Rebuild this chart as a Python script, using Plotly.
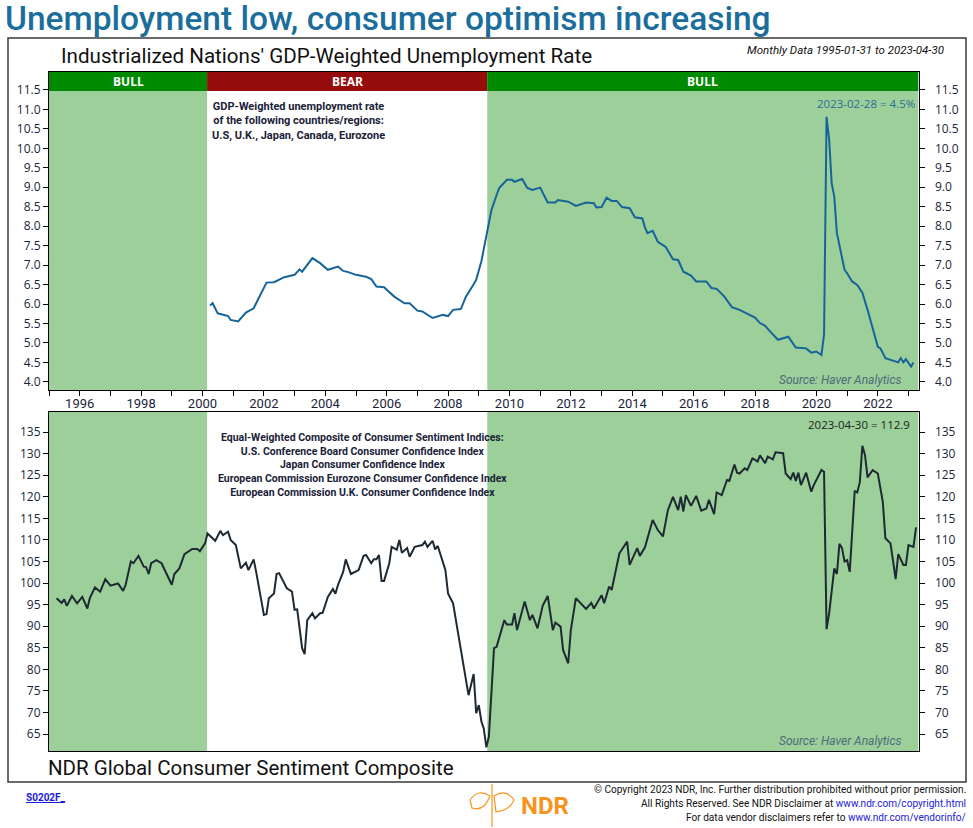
import plotly.graph_objects as go
import datetime as _dt

W, H = 973, 828

# ---------------- data ----------------
U_DATES = ["2000-04","2000-05","2000-07","2000-11","2000-12","2001-03","2001-06","2001-09","2002-02","2002-05",
           "2002-09","2003-01","2003-03","2003-04","2003-08","2003-11","2004-02","2004-06","2004-08","2004-10",
           "2005-01","2005-05","2005-07","2005-09","2005-12","2006-04","2006-08","2006-10","2007-01","2007-03",
           "2007-07","2007-11","2008-01","2008-03","2008-06","2008-08","2008-11","2008-12","2009-02","2009-04",
           "2009-06","2009-08","2009-09","2009-12","2010-02","2010-03","2010-06","2010-08","2010-10","2011-01",
           "2011-04","2011-07","2011-08","2011-12","2012-03","2012-07","2012-10","2012-11","2013-01","2013-03",
           "2013-05","2013-07","2013-09","2013-12","2014-02","2014-05","2014-06","2014-07","2014-09","2014-11",
           "2015-02","2015-05","2015-07","2015-09","2015-12","2016-02","2016-06","2016-08","2016-10","2017-01",
           "2017-04","2017-07","2017-10","2018-01","2018-03","2018-05","2018-07","2018-10","2019-02","2019-05",
           "2019-09","2019-11","2020-01","2020-03","2020-04","2020-05","2020-06","2020-07","2020-08","2020-09",
           "2020-12","2021-01","2021-03","2021-05","2021-07","2021-09","2022-01","2022-02","2022-04","2022-07",
           "2022-09","2022-10","2022-11","2022-12","2023-02","2023-03"]
U_VALS = [5.96,6.02,5.76,5.69,5.59,5.55,5.78,5.89,6.55,6.56,
          6.69,6.75,6.89,6.83,7.18,7.05,6.88,6.96,6.85,6.82,
          6.75,6.70,6.64,6.45,6.43,6.19,6.02,6.02,5.83,5.81,
          5.64,5.72,5.69,5.85,5.87,6.19,6.51,6.62,7.10,7.80,
          8.42,8.80,8.98,9.19,9.19,9.14,9.21,8.98,8.93,8.99,
          8.61,8.61,8.67,8.63,8.52,8.61,8.59,8.48,8.49,8.73,
          8.65,8.65,8.49,8.46,8.23,8.20,7.97,7.82,7.88,7.60,
          7.47,7.15,7.13,6.83,6.73,6.58,6.58,6.41,6.39,6.19,
          5.92,5.85,5.76,5.65,5.51,5.44,5.29,5.08,5.16,4.88,
          4.86,4.75,4.78,4.69,5.21,10.81,10.22,9.10,8.76,7.82,
          6.88,6.79,6.58,6.49,6.29,5.85,4.90,4.86,4.61,4.55,
          4.50,4.61,4.50,4.58,4.39,4.50]

S_DATES = ["1995-04","1995-06","1995-07","1995-08","1995-10","1995-12","1996-02","1996-04","1996-05","1996-07",
           "1996-09","1996-11","1997-01","1997-04","1997-06","1997-07","1997-09","1997-10","1997-12","1998-02",
           "1998-03","1998-04","1998-05","1998-07","1998-09","1998-11","1999-01","1999-02","1999-04","1999-06",
           "1999-07","1999-09","1999-11","1999-12","2000-02","2000-03","2000-06","2000-08","2000-09","2000-11",
           "2000-12","2001-02","2001-04","2001-06","2001-07","2001-09","2001-10","2002-01","2002-02","2002-03",
           "2002-05","2002-06","2002-07","2002-10","2002-12","2003-01","2003-02","2003-03","2003-04","2003-05",
           "2003-06","2003-08","2003-09","2003-11","2003-12","2004-02","2004-04","2004-05","2004-06","2004-08",
           "2004-09","2004-11","2005-02","2005-04","2005-05","2005-07","2005-08","2005-09","2005-10","2005-11",
           "2005-12","2006-02","2006-03","2006-05","2006-06","2006-07","2006-09","2006-10","2006-12","2007-03",
           "2007-04","2007-05","2007-07","2007-08","2007-09","2007-12","2008-01","2008-03","2008-05","2008-07",
           "2008-09","2008-11","2008-12","2009-01","2009-02","2009-03","2009-04","2009-05","2009-07","2009-08",
           "2009-11","2009-12","2010-02","2010-03","2010-04","2010-07","2010-09","2010-10","2010-12","2011-02",
           "2011-04","2011-06","2011-07","2011-09","2011-10","2011-12","2012-01","2012-03","2012-07","2012-09",
           "2012-10","2013-01","2013-02","2013-04","2013-05","2013-08","2013-11","2013-12","2014-03","2014-04",
           "2014-06","2014-09","2014-11","2015-01","2015-03","2015-05","2015-07","2015-08","2015-09","2015-10",
           "2015-12","2016-02","2016-04","2016-06","2016-07","2016-09","2016-10","2016-12","2017-02","2017-03",
           "2017-05","2017-06","2017-07","2017-09","2017-10","2017-12","2018-02","2018-03","2018-05","2018-06",
           "2018-08","2018-09","2018-12","2019-01","2019-03","2019-04","2019-05","2019-06","2019-07","2019-09",
           "2019-11","2019-12","2020-03","2020-04","2020-05","2020-06","2020-08","2020-09","2020-10","2020-11",
           "2020-12","2021-01","2021-02","2021-04","2021-05","2021-06","2021-07","2021-08","2021-09","2021-11",
           "2022-01","2022-03","2022-04","2022-06","2022-08","2022-09","2022-11","2022-12","2023-01","2023-03",
           "2023-04"]
S_VALS = [96.5,95.4,96.2,94.7,97.0,95.3,96.8,94.1,96.5,99.0,
          98.0,100.9,99.4,99.9,98.2,99.6,105.0,104.6,106.3,103.8,
          103.7,102.1,104.6,105.3,104.6,101.9,99.6,102.1,103.4,106.7,
          107.1,107.9,107.9,107.4,109.2,111.5,109.8,112.1,111.1,111.9,
          110.0,108.8,103.4,104.7,103.0,105.5,102.6,92.6,92.8,96.5,
          97.6,102.1,102.3,98.8,98.0,93.8,93.9,89.9,84.9,83.5,
          91.4,93.0,91.8,93.0,93.1,96.8,98.6,97.5,99.6,102.6,
          105.5,102.1,103.0,106.3,106.5,104.6,105.5,105.5,106.5,100.5,
          100.5,104.6,108.4,107.7,110.0,107.0,108.1,106.1,108.4,108.8,
          109.6,108.4,109.8,107.8,108.6,103.0,97.6,95.3,88.4,81.4,
          74.0,78.9,69.8,71.7,67.9,66.3,61.9,64.4,84.9,85.2,
          91.4,90.4,90.4,93.0,89.1,95.7,91.4,92.6,89.5,94.8,
          97.0,89.1,90.8,89.9,84.5,81.4,89.1,96.5,94.0,95.4,
          94.1,97.2,95.3,99.2,98.4,106.9,109.6,104.2,108.1,106.3,
          108.3,114.6,112.3,110.8,116.9,120.0,116.9,120.0,116.6,120.4,
          117.9,120.2,116.8,117.3,119.3,116.0,121.0,120.4,123.9,123.7,
          127.5,125.6,125.4,126.6,126.2,128.9,128.2,129.6,127.8,129.3,
          128.7,130.3,130.1,125.4,124.1,125.6,123.7,125.6,122.7,125.6,
          121.2,122.7,126.2,125.8,89.3,93.0,103.4,102.1,109.1,108.1,
          105.0,105.3,102.6,121.4,121.0,123.4,131.8,129.7,124.5,126.2,
          125.4,118.9,110.4,109.2,100.9,106.7,104.2,104.2,108.8,108.4,
          112.9]

# market regimes
REGIME_LABELS = ["BULL", "BEAR", "BULL"]
REGIME_STARTS = ["1995-01-01", "2000-02-25", "2009-04-12"]
REGIME_ENDS = ["2000-02-25", "2009-04-12", "2023-04-30"]

U_TICKS = [4.0, 4.5, 5.0, 5.5, 6.0, 6.5, 7.0, 7.5, 8.0, 8.5, 9.0, 9.5, 10.0, 10.5, 11.0, 11.5]
S_TICKS = [65, 70, 75, 80, 85, 90, 95, 100, 105, 110, 115, 120, 125, 130, 135]

# ---------------- layout helpers ----------------
def px(x):
    return x / W

def py(y):
    return 1 - y / H

X_RANGE = ["1995-01-01", "2023-04-30"]
XDOM = [px(49), px(918.5)]
TOP_DOM = [py(390), py(72)]
BOT_DOM = [py(751), py(412)]
U_RANGE = [3.79, 11.962]
S_RANGE = [61.06, 139.66]

LINE_BLUE = "#17649a"
LINE_DARK = "#1e2a33"
GREEN_FILL = "#9ccf9a"
BULL_GREEN = "#008a00"
BEAR_RED = "#960c0c"
TICK_COL = "#1b1f3b"

fig = go.Figure()

fig.add_trace(go.Scatter(x=U_DATES, y=U_VALS, mode="lines", xaxis="x", yaxis="y",
                         line=dict(color=LINE_BLUE, width=2), showlegend=False, hoverinfo="x+y"))
fig.add_trace(go.Scatter(x=U_DATES, y=U_VALS, mode="lines", xaxis="x", yaxis="y2",
                         line=dict(color=LINE_BLUE, width=0), opacity=0, showlegend=False, hoverinfo="skip"))
fig.add_trace(go.Scatter(x=S_DATES, y=S_VALS, mode="lines", xaxis="x2", yaxis="y3",
                         line=dict(color=LINE_DARK, width=2), showlegend=False, hoverinfo="x+y"))
fig.add_trace(go.Scatter(x=S_DATES, y=S_VALS, mode="lines", xaxis="x2", yaxis="y4",
                         line=dict(color=LINE_DARK, width=0), opacity=0, showlegend=False, hoverinfo="skip"))

shapes = []
# green shading for bull regimes
for lab, s, e in zip(REGIME_LABELS, REGIME_STARTS, REGIME_ENDS):
    if lab == "BULL":
        for xr, yr in (("x", "y domain"), ("x2", "y3 domain")):
            shapes.append(dict(type="rect", xref=xr, yref=yr, x0=s, x1=e, y0=0, y1=1,
                               fillcolor=GREEN_FILL, line=dict(width=0), layer="below"))
# header bar
for lab, s, e in zip(REGIME_LABELS, REGIME_STARTS, REGIME_ENDS):
    shapes.append(dict(type="rect", xref="x", yref="paper", x0=s, x1=e, y0=py(91), y1=py(72),
                       fillcolor=BULL_GREEN if lab == "BULL" else BEAR_RED, line=dict(width=0), layer="below"))
# outer frame
shapes.append(dict(type="rect", xref="paper", yref="paper", x0=px(8), x1=px(966), y0=py(782), y1=py(38),
                   line=dict(color="#3a3a3a", width=1.5), fillcolor="rgba(0,0,0,0)"))

annotations = []

def mid(s, e):
    a = _dt.date.fromisoformat(s)
    b = _dt.date.fromisoformat(e)
    return (a + (b - a) / 2).isoformat()

for lab, s, e in zip(REGIME_LABELS, REGIME_STARTS, REGIME_ENDS):
    annotations.append(dict(text="<b>" + lab + "</b>", x=mid(s, e), xref="x", y=py(81.5), yref="paper",
                            showarrow=False, font=dict(family="Open Sans", size=12, color="white"),
                            xanchor="center", yanchor="middle"))

annotations += [
    dict(text="Unemployment low, consumer optimism increasing", x=px(3), y=py(19), xref="paper", yref="paper",
         showarrow=False, xanchor="left", yanchor="middle",
         font=dict(family="Roboto", size=33.5, color="#1b6e9b", weight=500)),
    dict(text="Industrialized Nations' GDP-Weighted Unemployment Rate", x=px(59), y=py(56), xref="paper",
         yref="paper", showarrow=False, xanchor="left", yanchor="middle",
         font=dict(family="Roboto", size=20.6, color="#111111")),
    dict(text="<i>Monthly Data 1995-01-31 to 2023-04-30</i>", x=px(946), y=py(50), xref="paper", yref="paper",
         showarrow=False, xanchor="right", yanchor="middle",
         font=dict(family="Roboto", size=11.5, color="#111111")),
    dict(text="<b>GDP-Weighted unemployment rate<br>of the following countries/regions:<br>U.S, U.K., Japan, Canada, Eurozone</b>",
         x=px(298), y=py(98), xref="paper", yref="paper", showarrow=False, xanchor="center", yanchor="top",
         align="center", font=dict(family="Roboto", size=11, color="#1a2238")),
    dict(text="2023-02-28 = 4.5%", x=px(917), y=py(103), xref="paper", yref="paper", showarrow=False,
         xanchor="right", yanchor="middle", font=dict(family="Open Sans", size=11.5, color="#2a6e94")),
    dict(text="<i>Source: Haver Analytics</i>", x=px(904), y=py(380), xref="paper", yref="paper",
         showarrow=False, xanchor="right", yanchor="middle",
         font=dict(family="Roboto", size=12, color="#4f6b7a")),
    dict(text="2023-04-30 = 112.9", x=px(912), y=py(425), xref="paper", yref="paper", showarrow=False,
         xanchor="right", yanchor="middle", font=dict(family="Open Sans", size=11.5, color="#222222")),
    dict(text="<b>Equal-Weighted Composite of Consumer Sentiment Indices:<br>U.S. Conference Board Consumer Confidence Index<br>Japan Consumer Confidence Index<br>European Commission Eurozone Consumer Confidence Index<br>European Commission U.K. Consumer Confidence Index</b>",
         x=px(362), y=py(429), xref="paper", yref="paper", showarrow=False, xanchor="center", yanchor="top",
         align="center", font=dict(family="Roboto", size=10.5, color="#1a2238")),
    dict(text="<i>Source: Haver Analytics</i>", x=px(904), y=py(741), xref="paper", yref="paper",
         showarrow=False, xanchor="right", yanchor="middle",
         font=dict(family="Roboto", size=12, color="#4f6b7a")),
    dict(text="NDR Global Consumer Sentiment Composite", x=px(46), y=py(768), xref="paper", yref="paper",
         showarrow=False, xanchor="left", yanchor="middle",
         font=dict(family="Roboto", size=20.5, color="#111111")),
    dict(text="<b><u>S0202F_</u></b>", x=px(24), y=py(797), xref="paper", yref="paper", showarrow=False,
         xanchor="left", yanchor="middle", font=dict(family="Roboto", size=10, color="#1a1adb")),
    dict(text="© Copyright 2023 NDR, Inc. Further distribution prohibited without prior permission.",
         x=px(968), y=py(789), xref="paper", yref="paper", showarrow=False, xanchor="right", yanchor="middle",
         font=dict(family="Roboto", size=10.1, color="#111111")),
    dict(text="All Rights Reserved. See NDR Disclaimer at <span style='color:#2222dd'>www.ndr.com/copyright.html</span>",
         x=px(968), y=py(803), xref="paper", yref="paper", showarrow=False, xanchor="right", yanchor="middle",
         font=dict(family="Roboto", size=10.1, color="#111111")),
    dict(text="For data vendor disclaimers refer to <span style='color:#2222dd'>www.ndr.com/vendorinfo/</span>",
         x=px(968), y=py(817), xref="paper", yref="paper", showarrow=False, xanchor="right", yanchor="middle",
         font=dict(family="Roboto", size=10.1, color="#111111")),
    dict(text="<b>NDR</b>", x=px(519), y=py(806), xref="paper", yref="paper", showarrow=False,
         xanchor="left", yanchor="middle", font=dict(family="Roboto", size=24, color="#f7941d")),
]

# simple NDR logo mark
LOGO = "#f7941d"
shapes += [
    dict(type="line", xref="paper", yref="paper", x0=px(492), x1=px(492), y0=py(827), y1=py(784),
         line=dict(color=LOGO, width=1.2)),
    dict(type="path", xref="paper", yref="paper",
         path=f"M {px(470)} {py(800)} Q {px(478)} {py(788)} {px(490)} {py(796)} Q {px(484)} {py(812)} {px(472)} {py(808)} Z",
         line=dict(color=LOGO, width=1.2), fillcolor="rgba(0,0,0,0)"),
    dict(type="path", xref="paper", yref="paper",
         path=f"M {px(494)} {py(796)} Q {px(506)} {py(788)} {px(514)} {py(800)} Q {px(510)} {py(810)} {px(496)} {py(812)} Z",
         line=dict(color=LOGO, width=1.2), fillcolor="rgba(0,0,0,0)"),
]

yax_common = dict(showgrid=False, zeroline=False, showline=True, linecolor="black", linewidth=1,
                  ticks="outside", ticklen=5, tickcolor="black",
                  tickfont=dict(family="Open Sans", size=12, color=TICK_COL))

fig.update_layout(
    width=W, height=H,
    margin=dict(l=0, r=0, t=0, b=0),
    paper_bgcolor="white", plot_bgcolor="white",
    showlegend=False,
    xaxis=dict(domain=XDOM, anchor="y", type="date", range=X_RANGE, showgrid=False, zeroline=False,
               showline=True, linecolor="black", linewidth=1, mirror=True,
               tick0="1996-01-01", dtick="M24", tickformat="%Y", ticks="outside", ticklen=5,
               ticklabelstandoff=-4,
               tickcolor="black", tickfont=dict(family="Roboto", size=13, color=TICK_COL),
               minor=dict(dtick="M12", tick0="1996-01-01", ticks="outside", ticklen=5, tickcolor="black")),
    yaxis=dict(domain=TOP_DOM, anchor="x", range=U_RANGE, tickvals=U_TICKS, tickformat=".1f", side="left",
               **yax_common),
    yaxis2=dict(anchor="x", overlaying="y", range=U_RANGE, tickvals=U_TICKS, tickformat=".1f", side="right",
                ticklabelstandoff=8, **yax_common),
    xaxis2=dict(domain=XDOM, anchor="y3", type="date", range=X_RANGE, showgrid=False, zeroline=False,
                showline=True, linecolor="black", linewidth=1, mirror=True, showticklabels=False, ticks=""),
    yaxis3=dict(domain=BOT_DOM, anchor="x2", range=S_RANGE, tickvals=S_TICKS, side="left", **yax_common),
    yaxis4=dict(anchor="x2", overlaying="y3", range=S_RANGE, tickvals=S_TICKS, side="right",
                ticklabelstandoff=8, **yax_common),
    shapes=shapes,
    annotations=annotations,
)

fig.write_html("out.html", config={"displayModeBar": False},
               post_script="document.body.style.margin='0px';document.body.style.overflow='hidden';")
